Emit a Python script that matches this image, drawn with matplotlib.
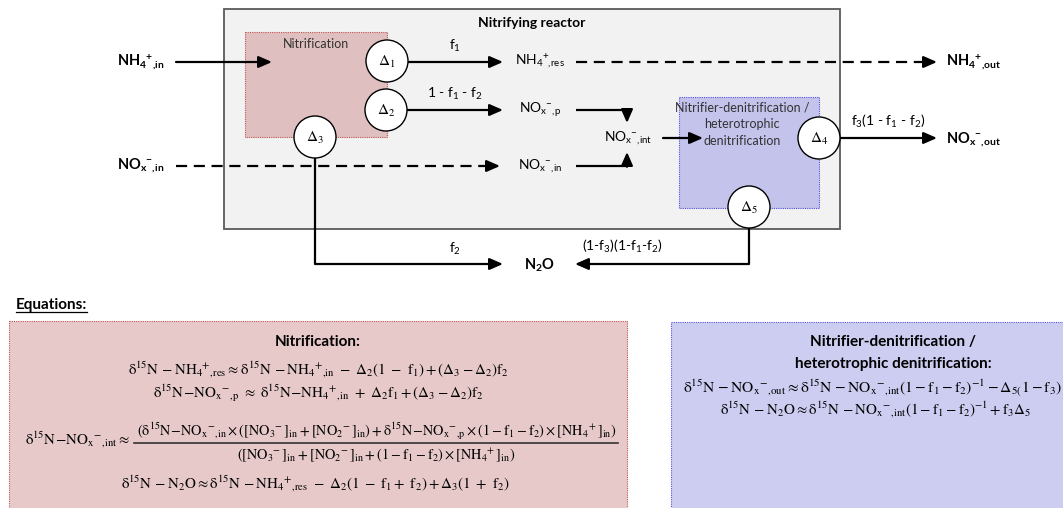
import matplotlib
matplotlib.use('Agg')
import matplotlib.pyplot as plt
from matplotlib.patches import Rectangle, Circle

plt.rcParams['font.family'] = ['Lato', 'DejaVu Sans']
plt.rcParams['mathtext.fontset'] = 'custom'
plt.rcParams['mathtext.rm'] = 'Lato'
plt.rcParams['mathtext.it'] = 'Lato:italic'
plt.rcParams['mathtext.bf'] = 'Lato:bold'
plt.rcParams['mathtext.default'] = 'rm'

# ---------------- texts of the diagram ----------------
reactor_title = 'Nitrifying reactor'
nitr_title = 'Nitrification'
denit_lines = ['Nitrifier-denitrification /', 'heterotrophic', 'denitrification']
inputs = [r'$\mathbf{NH_4\!{}^+\!{}_{,\!in}}$', r'$\mathbf{NO_x\!{}^-\!{}_{,\!in}}$']
outputs = [r'$\mathbf{NH_4\!{}^+\!{}_{,\!out}}$', r'$\mathbf{NO_x\!{}^-\!{}_{,\!out}}$', r'$\mathbf{N_2O}$']
pools = [r'$NH_4\!{}^+\!{}_{,\!res}$', r'$NO_x\!{}^-\!{}_{,\!p}$',
         r'$NO_x\!{}^-\!{}_{,\!in}$', r'$NO_x\!{}^-\!{}_{,\!int}$']
fractions = ['f$_1$', '1 - f$_1$ - f$_2$', 'f$_3$(1 - f$_1$ - f$_2$)', 'f$_2$',
             '(1-f$_3$)(1-f$_1$-f$_2$)']
deltas = [r'$\Delta_1$', r'$\Delta_2$', r'$\Delta_3$', r'$\Delta_4$', r'$\Delta_5$']

eq_header = 'Equations:'
nitr_eq_title = 'Nitrification:'
nitr_eqs = [
    r'$\delta^{15}N\,-NH_4\!{}^+\!{}_{,\!res}\approx\delta^{15}N\,-NH_4\!{}^+\!{}_{,\!in}\ -\ \Delta_2(1\ -\ f_1)+(\Delta_3-\Delta_2)f_2$',
    r'$\delta^{15}N\!-\!NO_x\!{}^-\!{}_{,\!p}\ \approx\ \delta^{15}N\!-\!NH_4\!{}^+\!{}_{,\!in}\ +\ \Delta_2f_1+(\Delta_3-\Delta_2)f_2$',
    r'$\delta^{15}N\!-\!NO_x\!{}^-\!{}_{,\!int}\approx$',
    r'$(\delta^{15}N\!-\!NO_x\!{}^-\!{}_{,\!in}\times([NO_3\!{}^-]_{in}+[NO_2\!{}^-]_{in})+\delta^{15}N\!-\!NO_x\!{}^-\!{}_{,\!p}\times(1-f_1-f_2)\times[NH_4\!{}^+]_{in})$',
    r'$([NO_3\!{}^-]_{in}+[NO_2\!{}^-]_{in}+(1-f_1-f_2)\times[NH_4\!{}^+]_{in})$',
    r'$\delta^{15}N\,-N_2O\approx\delta^{15}N\,-NH_4\!{}^+\!{}_{,\!res}\ -\ \Delta_2(1\ -\ f_1+\ f_2)+\Delta_3(1\ +\ f_2)$',
]
denit_eq_title = ['Nitrifier-denitrification /', 'heterotrophic denitrification:']
denit_eqs = [
    r'$\delta^{15}N\,-NO_x\!{}^-\!{}_{,\!out}\approx\delta^{15}N\,-NO_x\!{}^-\!{}_{,\!int}(1-f_1-f_2)^{-1}-\Delta_{5(}1-f_3)$',
    r'$\delta^{15}N\,-N_2O\approx\delta^{15}N\,-NO_x\!{}^-\!{}_{,\!int}(1-f_1-f_2)^{-1}+f_3\Delta_5$',
]

# ---------------- drawing ----------------
W, H = 1063, 508
fig = plt.figure(figsize=(W / 100, H / 100), dpi=100)
ax = fig.add_axes([0, 0, 1, 1])
ax.set_xlim(0, W)
ax.set_ylim(H, 0)
ax.axis('off')

LW = 1.6
ARW = dict(arrowstyle='-|>,head_length=0.8,head_width=0.35', lw=LW, color='black',
           shrinkA=0, shrinkB=0, mutation_scale=10)
DASH = (0, (5, 3))


def arrow(x0, y0, x1, y1):
    ax.annotate('', xy=(x1, y1), xytext=(x0, y0), arrowprops=ARW, zorder=4)


def line(xs, ys, ls='-'):
    ax.plot(xs, ys, color='black', lw=LW, ls=ls, solid_capstyle='butt',
            dash_capstyle='butt', zorder=3)


# boxes
ax.add_patch(Rectangle((224, 9), 616, 220, facecolor='#f2f2f2', edgecolor='#5a5a5a', lw=1.3, zorder=1))
ax.add_patch(Rectangle((245, 32), 142, 105, facecolor='#dfbfbf', edgecolor='#c0504d',
                       lw=0.8, ls=(0, (1, 1)), zorder=2))
ax.add_patch(Rectangle((679, 97), 140, 111, facecolor='#c3c3ec', edgecolor='#4f4fe0',
                       lw=0.8, ls=(0, (1, 1)), zorder=2))

ax.text(532, 23, reactor_title, ha='center', va='center', fontsize=10, fontweight='bold', zorder=6)
ax.text(316, 44, nitr_title, ha='center', va='center', fontsize=9, color='#333333', zorder=6)
for i, yy in enumerate([107, 124, 141]):
    ax.text(742, yy, denit_lines[i], ha='center', va='center', fontsize=9, color='#333333', zorder=6)

# inputs / outputs
ax.text(141, 62, inputs[0], ha='center', va='center', fontsize=10.5, zorder=6)
ax.text(141, 166, inputs[1], ha='center', va='center', fontsize=10.5, zorder=6)
ax.text(974, 62, outputs[0], ha='center', va='center', fontsize=10.5, zorder=6)
ax.text(974, 140, outputs[1], ha='center', va='center', fontsize=10.5, zorder=6)
ax.text(539, 265, outputs[2], ha='center', va='center', fontsize=10.5, zorder=6)

# pools
ax.text(540, 62, pools[0], ha='center', va='center', fontsize=10, zorder=6)
ax.text(540, 110, pools[1], ha='center', va='center', fontsize=10, zorder=6)
ax.text(540, 166, pools[2], ha='center', va='center', fontsize=10, zorder=6)
ax.text(628, 138, pools[3], ha='center', va='center', fontsize=10, zorder=6)

# fractions
ax.text(455, 46, fractions[0], ha='center', va='center', fontsize=10, zorder=6)
ax.text(455, 94, fractions[1], ha='center', va='center', fontsize=10, zorder=6)
ax.text(888, 121, fractions[2], ha='center', va='center', fontsize=10, zorder=6)
ax.text(455, 249, fractions[3], ha='center', va='center', fontsize=10, zorder=6)
ax.text(622, 246, fractions[4], ha='center', va='center', fontsize=10, zorder=6)

# arrows and lines
arrow(176, 62, 272, 62)
line([176, 492], [166, 166], DASH)
arrow(488, 166, 500, 166)
arrow(408, 62, 503, 62)
arrow(407, 110, 503, 110)
line([576, 928], [62, 62], DASH)
arrow(926, 62, 937, 62)
line([576, 627], [110, 110])
arrow(627, 109.2, 627, 123)
line([576, 627], [166, 166])
arrow(627, 166.8, 627, 152)
arrow(663, 138, 703, 138)
arrow(840, 138, 937, 138)
line([315, 315, 495], [158, 264, 264])
arrow(490, 264, 503, 264)
line([749, 749, 585], [228, 264, 264])
arrow(590, 264, 575, 264)

# delta circles
circ = [(387, 61), (386, 110), (315, 137), (819, 138), (749, 207)]
for (cx, cy), d in zip(circ, deltas):
    ax.add_patch(Circle((cx, cy), 21, facecolor='white', edgecolor='black', lw=1.0, zorder=5))
    ax.text(cx, cy + 1, d, ha='center', va='center', fontsize=11, math_fontfamily='stix', zorder=6)

# ---------------- equations ----------------
t = ax.text(16, 305, eq_header, ha='left', va='center', fontsize=11, fontweight='bold')
fig.canvas.draw()
bb = t.get_window_extent(renderer=fig.canvas.get_renderer())
ax.plot([bb.x0, bb.x1], [312, 312], color='black', lw=0.9)

ax.add_patch(Rectangle((9, 321), 618, 200, facecolor='#e7c9ca', edgecolor='#c0504d',
                       lw=0.8, ls=(0, (1, 1)), zorder=1, clip_on=False))
ax.add_patch(Rectangle((671, 322), 420, 200, facecolor='#cdcdf2', edgecolor='#4f4fe0',
                       lw=0.8, ls=(0, (1, 1)), zorder=1, clip_on=False))

EQ = dict(ha='center', va='center', fontsize=10.8, math_fontfamily='stix', zorder=6)
ax.text(318, 342, nitr_eq_title, ha='center', va='center', fontsize=11, fontweight='bold', zorder=6)
ax.text(318, 370, nitr_eqs[0], **EQ)
ax.text(318, 393, nitr_eqs[1], **EQ)
ax.text(130, 440, nitr_eqs[2], **dict(EQ, ha='right'))
ax.text(377, 431, nitr_eqs[3], **dict(EQ, fontsize=10.3))
ax.plot([134, 618], [443, 443], color='#333333', lw=1.2, zorder=6)
ax.text(376, 455, nitr_eqs[4], **dict(EQ, fontsize=10.3))
ax.text(315, 484, nitr_eqs[5], **EQ)

ax.text(893, 342, denit_eq_title[0], ha='center', va='center', fontsize=11, fontweight='bold', zorder=6)
ax.text(893, 364, denit_eq_title[1], ha='center', va='center', fontsize=11, fontweight='bold', zorder=6)
ax.text(872, 388, denit_eqs[0], **dict(EQ, fontsize=11.2))
ax.text(876, 410, denit_eqs[1], **EQ)

fig.savefig('out.png', dpi=100)
